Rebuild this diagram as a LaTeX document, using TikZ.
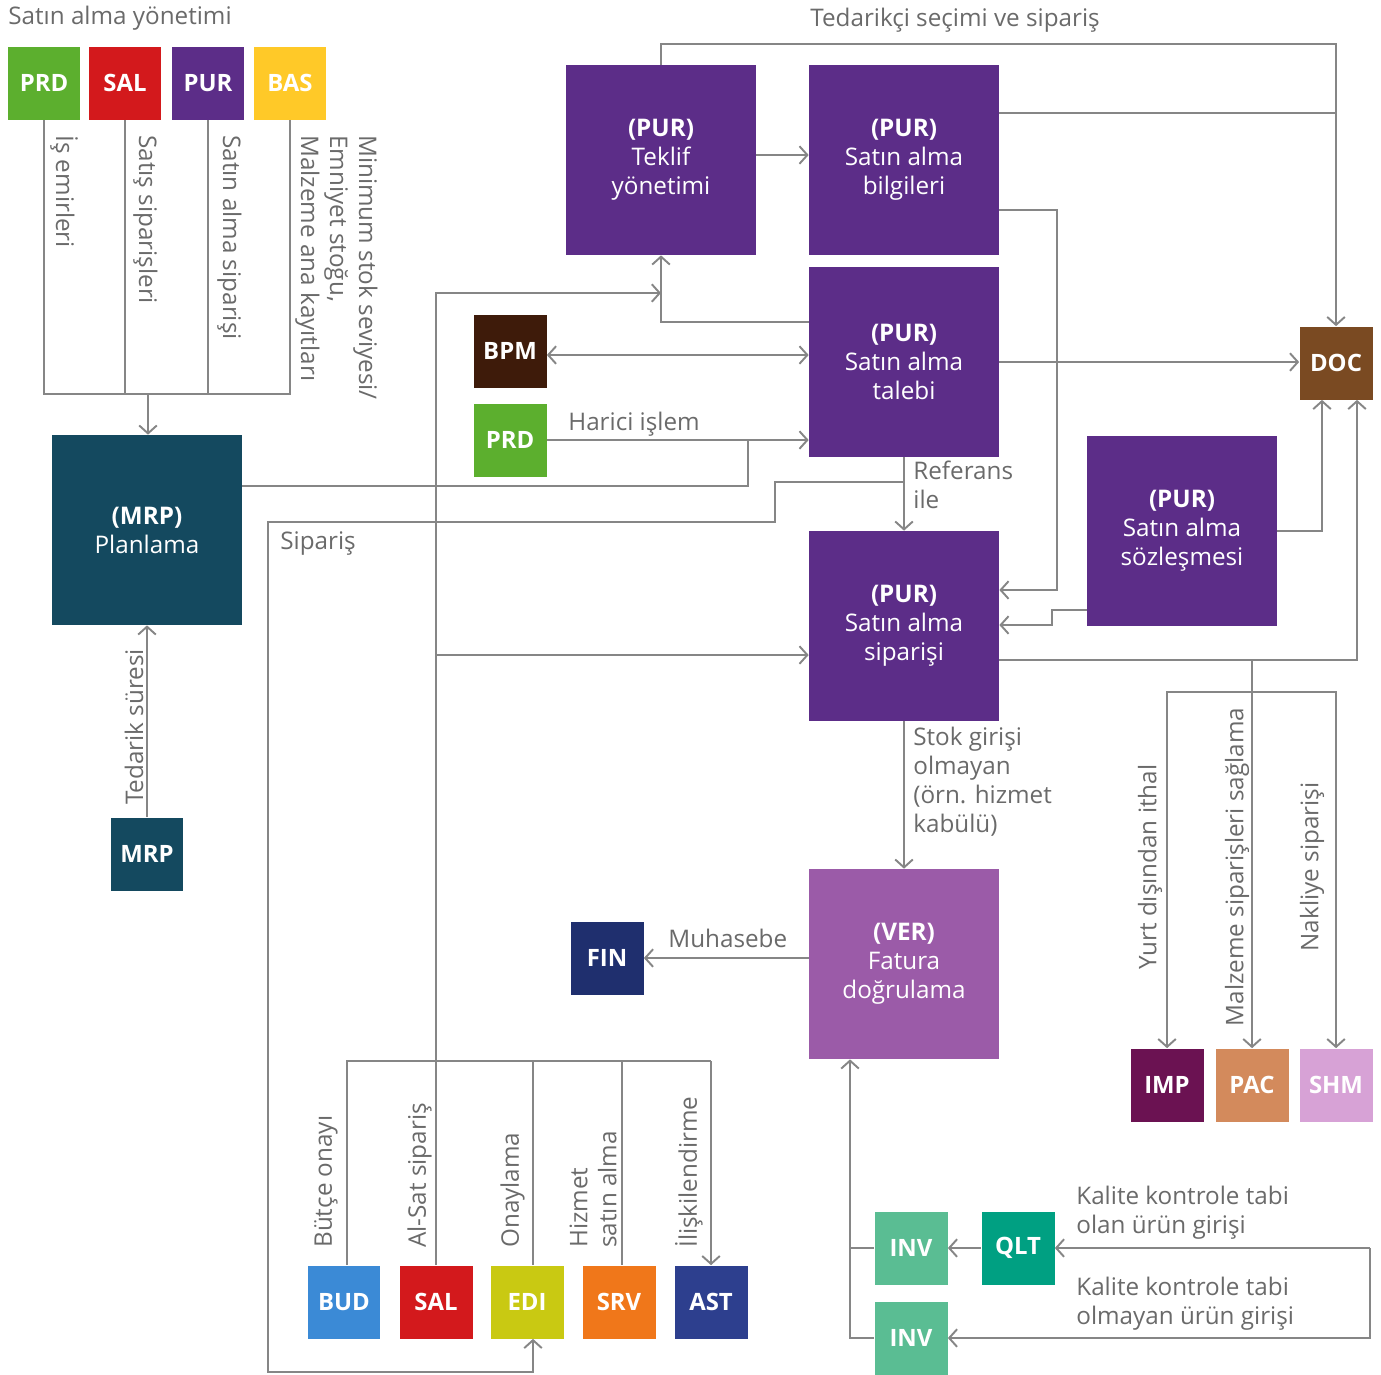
\documentclass[tikz,border=0pt]{standalone}
\usepackage{fontspec}
\setmainfont{Open Sans}
\usetikzlibrary{arrows.meta,positioning}

\definecolor{purc}{HTML}{5C2D88}
\definecolor{prdc}{HTML}{5CAF2E}
\definecolor{salc}{HTML}{D3191C}
\definecolor{basc}{HTML}{FFC928}
\definecolor{mrpc}{HTML}{14495F}
\definecolor{docc}{HTML}{7A4A22}
\definecolor{bpmc}{HTML}{3E1B0A}
\definecolor{finc}{HTML}{1F2F6E}
\definecolor{verc}{HTML}{9B5BA8}
\definecolor{impc}{HTML}{6B1252}
\definecolor{pacc}{HTML}{D38A5C}
\definecolor{shmc}{HTML}{D7A2D6}
\definecolor{qltc}{HTML}{00A082}
\definecolor{invc}{HTML}{5ABD93}
\definecolor{budc}{HTML}{3B8AD6}
\definecolor{edic}{HTML}{C9C912}
\definecolor{srvc}{HTML}{F0771A}
\definecolor{astc}{HTML}{2D3F8E}
\definecolor{linec}{HTML}{868686}
\definecolor{txtc}{HTML}{6A6A6A}

\tikzset{
  box/.style={fill=#1, text=white, align=center, inner sep=0pt,
    minimum width=1.46cm, minimum height=1.46cm,
    font=\fontsize{13.6}{16.5}\selectfont\bfseries},
  bigbox/.style={box=#1, minimum width=3.8cm, minimum height=3.8cm,
    font=\fontsize{13.8}{16.5}\selectfont},
  conn/.style={draw=linec, line width=1.1pt},
  arr/.style={conn, -{Straight Barb[length=4.5pt,width=10pt]}},
  lbl/.style={text=txtc, inner sep=0pt, align=left,
    font=\fontsize{13.8}{16.5}\selectfont},
}

\begin{document}
\begin{tikzpicture}[x=0.02cm, y=-0.02cm]
  \useasboundingbox (0,0) rectangle (1381,1374);

  % satin alma yonetimi
  \node[lbl, anchor=west] (ttl1) at (8,18) {Satın alma yönetimi};
  \node[box=prdc] (prd) at (44,83) {PRD};
  \node[box=salc] (sal) at (125,83) {SAL};
  \node[box=purc] (pur) at (208,83) {PUR};
  \node[box=basc] (bas) at (290,83) {BAS};

  \node[lbl, rotate=-90, anchor=south west] at (50,135) {İş emirleri};
  \node[lbl, rotate=-90, anchor=south west] at (133,135) {Satış siparişleri};
  \node[lbl, rotate=-90, anchor=south west] at (217,135) {Satın alma siparişi};
  \node[lbl, rotate=-90, anchor=south west] at (295,135)
    {Minimum stok seviyesi/\\Emniyet stoğu,\\Malzeme ana kayıtları};

  \node[bigbox=mrpc] (mrpplan) at (147,530) {{\bfseries (MRP)}\\Planlama};
  \node[box=mrpc] (mrp) at (147,854) {MRP};

  \coordinate (topj) at (148,394);
  \draw[conn] (prd.south) |- (topj);
  \draw[conn] (bas.south) |- (topj);
  \draw[conn] (sal.south) -- (sal.south |- topj);
  \draw[conn] (pur.south) -- (pur.south |- topj);
  \draw[arr] (topj) -- (mrpplan.north -| topj);

  \draw[arr] (mrp) -- (mrpplan);
  \node[lbl, rotate=90] at (134,727) {Tedarik süresi};

  % tedarikci secimi ve siparis
  \node[lbl, anchor=west] (ttl2) at (810,20) {Tedarikçi seçimi ve sipariş};
  \node[bigbox=purc] (teklif) at (661,160) {{\bfseries (PUR)}\\Teklif\\yönetimi};
  \node[bigbox=purc] (bilgi) at (904,160) {{\bfseries (PUR)}\\Satın alma\\bilgileri};
  \node[bigbox=purc] (talep) at (904,362) {{\bfseries (PUR)}\\Satın alma\\talebi};
  \node[bigbox=purc] (siparis) at (904,626) {{\bfseries (PUR)}\\Satın alma\\siparişi};
  \node[bigbox=purc] (sozles) at (1182,531) {{\bfseries (PUR)}\\Satın alma\\sözleşmesi};
  \node[bigbox=verc] (ver) at (904,964) {{\bfseries (VER)}\\Fatura\\doğrulama};
  \node[box=docc] (doc) at (1336,363) {DOC};
  \node[box=bpmc] (bpm) at (510,351) {BPM};
  \node[box=prdc] (prdx) at (510,440) {PRD};
  \node[box=finc] (fin) at (607,958) {FIN};

  % alt grup
  \node[box=budc] (bud) at (344,1302) {BUD};
  \node[box=salc] (salb) at (436,1302) {SAL};
  \node[box=edic] (edi) at (527,1302) {EDI};
  \node[box=srvc] (srv) at (619,1302) {SRV};
  \node[box=astc] (ast) at (711,1302) {AST};

  \draw[arr] (teklif.north) |- (doc.north |- 0,44) -- (doc.north);
  \draw[conn] (bilgi.east |- 0,113) -- (doc.north |- 0,113);
  \draw[arr] (teklif.east |- 0,155) -- (bilgi.west |- 0,155);
  \draw[arr] (bilgi.east |- 0,210) -| (1057,590) -- (siparis.east |- 0,590);
  \draw[arr] (sozles.west |- 0,610) -- (1052,610) |- (siparis.east |- 0,625);
  \draw[arr] (sozles.east) -| (1322,0 |- doc.south);
  \draw[arr] (talep.east) -- (doc.west |- talep.east);
  \draw[arr] (siparis.east |- 0,660) -| (1357,0 |- doc.south);
  \draw[arr] (talep.west |- 0,322) -| (teklif.south);
  \draw[{Straight Barb[length=4.5pt,width=10pt]}-{Straight Barb[length=4.5pt,width=10pt]}, conn]
    (bpm.east |- 0,355) -- (talep.west |- 0,355);

  \draw[arr] (prdx) -- (talep.west |- prdx);
  \node[lbl, anchor=west] at (568,424) {Harici işlem};
  \draw[conn] (mrpplan.east |- 0,486) -| (748,0 |- prdx);

  \draw[arr] (talep) -- (siparis);
  \node[lbl, anchor=north west] at (913,461) {Referans\\ile};

  \draw[arr] (talep.south |- 0,482) -| (775,522) -| (268,1372) -| (533,0 |- edi.south);
  \node[lbl, anchor=west] at (280,543) {Sipariş};

  \draw[arr] (siparis) -- (ver);
  \node[lbl, anchor=north west] at (913,727) {Stok girişi\\olmayan\\(örn. hizmet\\kabülü)};

  \draw[arr] (ver.west |- fin) -- (fin);
  \node[lbl, anchor=west] at (668,938) {Muhasebe};

  % yurt disi, malzeme, nakliye
  \node[box=impc] (imp) at (1167,1085) {IMP};
  \node[box=pacc] (pac) at (1252,1085) {PAC};
  \node[box=shmc] (shm) at (1336,1085) {SHM};
  \draw[arr] (pac.north |- 0,660) -- (pac.north);
  \draw[arr] (pac.north |- 0,692) -| (imp.north);
  \draw[arr] (pac.north |- 0,692) -| (shm.north);
  \node[lbl, rotate=90] at (1150,867) {Yurt dışından ithal};
  \node[lbl, rotate=90] at (1237,867) {Malzeme siparişleri sağlama};
  \node[lbl, rotate=90] at (1312,867) {Nakliye siparişi};

  % alt grup baglantilari
  \draw[arr] (salb.north) |- (teklif.south |- 0,293);
  \draw[arr] (salb.north |- 0,655) -- (siparis.west |- 0,655);
  \draw[conn] (347,0 |- bud.north) |- (ast.north |- 0,1061);
  \draw[conn] (533,0 |- edi.north) -- (533,1061);
  \draw[conn] (622,0 |- srv.north) -- (622,1061);
  \draw[arr] (ast.north |- 0,1061) -- (ast.north);
  \node[lbl, rotate=90, anchor=south west] at (338,1248) {Bütçe onayı};
  \node[lbl, rotate=90, anchor=south west] at (432,1248) {Al-Sat sipariş};
  \node[lbl, rotate=90, anchor=south west] at (525,1248) {Onaylama};
  \node[lbl, rotate=90, anchor=south west] at (617,1248) {Hizmet\\satın alma};
  \node[lbl, rotate=90, anchor=south west] at (703,1248) {İlişkilendirme};

  % kalite kontrol
  \node[box=qltc] (qlt) at (1018,1248) {QLT};
  \node[box=invc] (inva) at (911,1248) {INV};
  \node[box=invc] (invb) at (911,1338) {INV};
  \draw[arr] (qlt) -- (inva);
  \draw[arr] (invb.west) -| (850,0 |- ver.south);
  \draw[conn] (inva.west) -- (850,0 |- inva.west);
  \draw[arr] (1370,0 |- qlt) -- (qlt);
  \draw[arr] (1370,0 |- qlt) |- (invb);
  \node[lbl, anchor=north west] at (1076,1186) {Kalite kontrole tabi\\olan ürün girişi};
  \node[lbl, anchor=north west] at (1076,1277) {Kalite kontrole tabi\\olmayan ürün girişi};
\end{tikzpicture}
\end{document}
